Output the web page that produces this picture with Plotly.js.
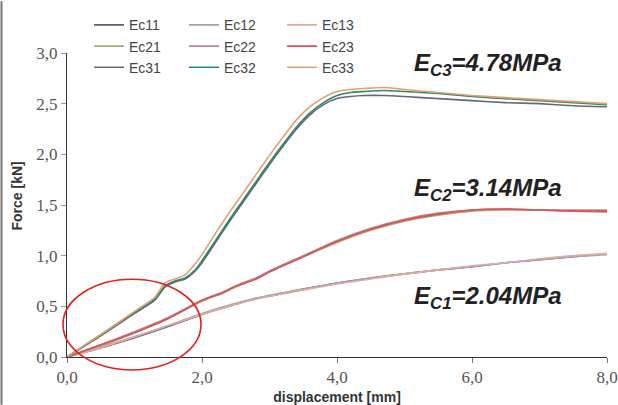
<!DOCTYPE html>
<html>
<head>
<meta charset="utf-8">
<script src="https://cdn.plot.ly/plotly-3.0.1.min.js"></script>
<style>html,body{margin:0;padding:0;background:#fff;}#chart{width:618px;height:405px;}</style>
</head>
<body>
<div id="chart"></div>
<script>
// ---- data ----
const seriesNames = ["Ec11","Ec12","Ec13","Ec21","Ec22","Ec23","Ec31","Ec32","Ec33"];

const xLow = [0, 0.5, 1.0, 1.5, 2.0, 2.5, 2.8, 3.0, 3.5, 4.0, 4.5, 5.0, 5.5, 6.0, 6.5, 7.0, 7.5, 8.0];
const ec11 = [0, 0.09, 0.19, 0.30, 0.42, 0.52, 0.58, 0.60, 0.67, 0.73, 0.78, 0.82, 0.86, 0.89, 0.93, 0.96, 0.99, 1.02];
const ec12 = [0, 0.10, 0.20, 0.31, 0.43, 0.53, 0.58, 0.61, 0.67, 0.73, 0.78, 0.82, 0.86, 0.89, 0.93, 0.96, 0.99, 1.01];
const ec13 = [0, 0.09, 0.20, 0.31, 0.42, 0.52, 0.57, 0.60, 0.66, 0.72, 0.77, 0.82, 0.86, 0.90, 0.93, 0.97, 1.00, 1.02];

const xMid = [0, 0.5, 1.0, 1.5, 2.0, 2.3, 2.5, 2.6, 2.8, 3.0, 3.5, 4.0, 4.5, 5.0, 5.5, 6.0, 6.5, 7.0, 7.5, 8.0];
const ec21 = [0, 0.11, 0.24, 0.38, 0.55, 0.63, 0.69, 0.72, 0.77, 0.84, 0.99, 1.13, 1.25, 1.34, 1.40, 1.44, 1.45, 1.45, 1.44, 1.43];
const ec22 = [0, 0.12, 0.25, 0.39, 0.56, 0.64, 0.70, 0.73, 0.78, 0.85, 1.00, 1.15, 1.27, 1.36, 1.42, 1.45, 1.46, 1.45, 1.45, 1.45];
const ec23 = [0, 0.12, 0.24, 0.38, 0.56, 0.63, 0.70, 0.72, 0.77, 0.84, 0.99, 1.14, 1.26, 1.35, 1.41, 1.45, 1.46, 1.45, 1.44, 1.44];

const xTop = [0, 0.5, 1.0, 1.3, 1.45, 1.6, 1.75, 1.9, 2.0, 2.2, 2.4, 2.6, 2.8, 3.0, 3.2, 3.4, 3.6, 3.8, 4.0, 4.2, 4.4, 4.7, 5.0, 5.5, 6.0, 6.5, 7.0, 7.5, 8.0];
const ec31 = [0, 0.21, 0.43, 0.56, 0.69, 0.74, 0.77, 0.85, 0.93, 1.13, 1.33, 1.52, 1.71, 1.90, 2.08, 2.25, 2.39, 2.49, 2.55, 2.57, 2.58, 2.58, 2.57, 2.55, 2.53, 2.51, 2.50, 2.48, 2.47];
const ec32 = [0, 0.22, 0.44, 0.57, 0.70, 0.75, 0.78, 0.86, 0.95, 1.15, 1.35, 1.54, 1.73, 1.92, 2.10, 2.27, 2.41, 2.51, 2.58, 2.61, 2.62, 2.63, 2.62, 2.60, 2.57, 2.55, 2.53, 2.51, 2.49];
const ec33 = [0, 0.22, 0.45, 0.59, 0.73, 0.77, 0.81, 0.92, 1.01, 1.22, 1.42, 1.61, 1.80, 1.99, 2.17, 2.34, 2.47, 2.56, 2.62, 2.64, 2.65, 2.66, 2.64, 2.61, 2.58, 2.56, 2.54, 2.52, 2.50];

const modulusLabels = ["E<sub>C3</sub>=4.78MPa", "E<sub>C2</sub>=3.14MPa", "E<sub>C1</sub>=2.04MPa"];
const xTickVals = [0, 2, 4, 6, 8];
const yTickVals = [0, 0.5, 1, 1.5, 2, 2.5, 3];

// ---- styling ----
const colors = {
  Ec11: "#56627a", Ec12: "#a3a3a8", Ec13: "#e3a9a4",
  Ec21: "#a9ae6e", Ec22: "#b58a8c", Ec23: "#d9505e",
  Ec31: "#6c6478", Ec32: "#2b8a68", Ec33: "#e2a070"
};
const seriesX = {Ec11: xLow, Ec12: xLow, Ec13: xLow, Ec21: xMid, Ec22: xMid, Ec23: xMid, Ec31: xTop, Ec32: xTop, Ec33: xTop};
const seriesY = {Ec11: ec11, Ec12: ec12, Ec13: ec13, Ec21: ec21, Ec22: ec22, Ec23: ec23, Ec31: ec31, Ec32: ec32, Ec33: ec33};
const legendOf = n => ({"1": "legend", "2": "legend2", "3": "legend3"})[n.charAt(3)];
const drawOrder = ["Ec11","Ec12","Ec13","Ec21","Ec22","Ec23","Ec31","Ec32","Ec33"];

const traces = drawOrder.map(n => ({
  type: "scatter", mode: "lines", name: n,
  x: seriesX[n], y: seriesY[n],
  line: {color: colors[n], width: 1.6, shape: "spline", smoothing: 0.6},
  legend: legendOf(n), legendgroup: n,
  hoverinfo: "skip"
}));

const legendBase = {
  orientation: "v", xanchor: "left", yanchor: "top", y: 1.14,
  bgcolor: "rgba(0,0,0,0)", borderwidth: 0, tracegroupgap: 2,
  font: {family: "Liberation Sans, Arial, sans-serif", size: 14, color: "#444"},
  itemwidth: 30, traceorder: "normal"
};

const annoFont = {family: "Liberation Sans, Arial, sans-serif", size: 24, color: "#222"};
const annoY = [64, 189, 297];
const annotations = modulusLabels.map((t, i) => ({
  text: "<b><i>" + t + "</i></b>", xref: "paper", yref: "paper",
  x: (412 - 67) / 540, y: (357 - annoY[i]) / 305, xanchor: "left", yanchor: "middle",
  showarrow: false, font: annoFont
}));
annotations.push({
  text: "<b>Force [kN]</b>", xref: "paper", yref: "paper", textangle: -90,
  x: (17 - 67) / 540, y: (357 - 196) / 305, xanchor: "center", yanchor: "middle",
  showarrow: false, font: {family: "Liberation Sans, Arial, sans-serif", size: 14, color: "#333"}
});

const tickFont = {family: "Liberation Serif, Times New Roman, serif", size: 17, color: "#555"};

const layout = {
  width: 618, height: 405,
  margin: {l: 67, r: 11, t: 52, b: 48},
  paper_bgcolor: "#fff", plot_bgcolor: "#fff",
  separators: ",.",
  showlegend: true,
  legend: Object.assign({}, legendBase, {x: (89 - 67) / 540}),
  legend2: Object.assign({}, legendBase, {x: (184 - 67) / 540}),
  legend3: Object.assign({}, legendBase, {x: (282 - 67) / 540}),
  xaxis: {
    range: [0, 8], tickvals: xTickVals, tickformat: ".1f",
    showgrid: false, zeroline: false, showline: true, linecolor: "#333", linewidth: 1,
    ticks: "outside", ticklen: 5, tickcolor: "#777", tickfont: tickFont,
    title: {text: "<b>displacement [mm]</b>", standoff: 7,
            font: {family: "Liberation Sans, Arial, sans-serif", size: 14, color: "#333"}}
  },
  yaxis: {
    range: [0, 3], tickvals: yTickVals, tickformat: ".1f",
    showgrid: false, zeroline: false, showline: true, linecolor: "#333", linewidth: 1,
    ticks: "outside", ticklen: 5, tickcolor: "#999", tickfont: tickFont
  },
  annotations: annotations,
  shapes: [
    {type: "circle", xref: "paper", yref: "paper",
     x0: (63 - 67) / 540, x1: (201 - 67) / 540, y0: (357 - 370) / 305, y1: (357 - 279) / 305,
     line: {color: "#e0201c", width: 1.6}, fillcolor: "rgba(0,0,0,0)", layer: "above"},
    {type: "line", xref: "paper", yref: "paper",
     x0: (1.5 - 67) / 540, x1: (1.5 - 67) / 540, y0: (357 - 0) / 305, y1: (357 - 405) / 305,
     line: {color: "#777", width: 2}}
  ]
};

Plotly.newPlot("chart", traces, layout, {staticPlot: true, displayModeBar: false});
</script>
</body>
</html>
